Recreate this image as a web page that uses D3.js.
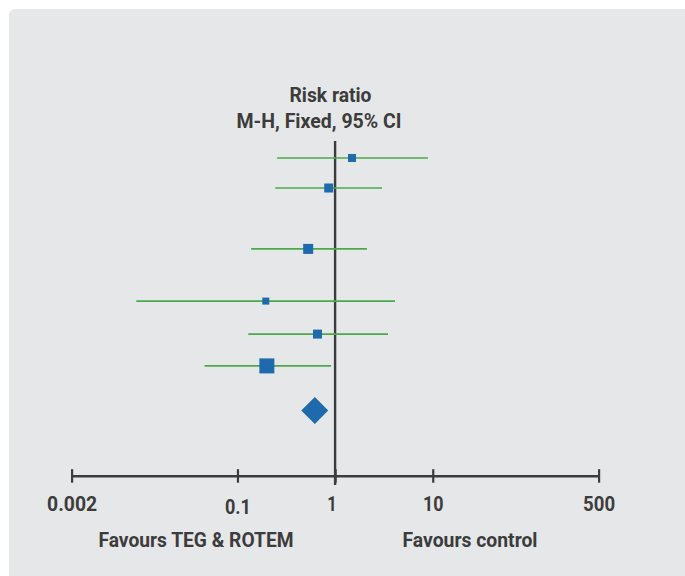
<!DOCTYPE html>
<html>
<head>
<meta charset="utf-8">
<script src="https://cdn.jsdelivr.net/npm/d3@7/dist/d3.min.js"></script>
<style>
  html, body { margin: 0; padding: 0; background: #ffffff; }
  svg { display: block; }
  text { font-family: Roboto, "Noto Sans", sans-serif; font-weight: 700; fill: #3c3c3c; }
</style>
</head>
<body>
<svg id="chart" width="685" height="576"></svg>
<script>
// ---- data ----
const studies = ["Study 1", "Study 2", "Study 3", "Study 4", "Study 5", "Study 6"];
const riskRatio = [1.49, 0.86, 0.53, 0.195, 0.66, 0.20];
const ciLower   = [0.255, 0.244, 0.138, 0.0092, 0.129, 0.046];
const ciUpper   = [8.93, 3.02, 2.12, 4.11, 3.48, 0.91];
const weights   = [10.7, 13.5, 16.7, 8.2, 13.5, 37.5];
const rowPos    = [0, 1, 3.03, 4.77, 5.87, 6.93];
const pooled    = { rr: 0.62, lower: 0.45, upper: 0.85, row: 8.42 };
const tickValues = [0.002, 0.1, 1, 10, 500];
const tickLabels = ["0.002", "0.1", "1", "10", "500"];

const svg = d3.select("#chart");

// panel
svg.append("rect")
  .attr("x", 9).attr("y", 9)
  .attr("width", 690).attr("height", 580)
  .attr("rx", 6).attr("ry", 6)
  .attr("fill", "#e6e7e9");

const x = d3.scaleLog().domain([0.002, 500]).range([71.6, 598.6]);
const y = d3.scaleLinear().domain([0, 1]).range([158, 188]);
const side = d3.scaleSqrt().domain([0, 37.5]).range([0, 15]);

// title
svg.append("text").attr("x", 330.5).attr("y", 101.7)
  .attr("text-anchor", "middle").attr("font-size", 20)
  .attr("textLength", 82).attr("lengthAdjust", "spacingAndGlyphs")
  .text("Risk ratio");
svg.append("text").attr("x", 319).attr("y", 127.7)
  .attr("text-anchor", "middle").attr("font-size", 20)
  .attr("textLength", 165).attr("lengthAdjust", "spacingAndGlyphs")
  .text("M-H, Fixed, 95% CI");

// axis
const axisY = 475.7;
const axis = d3.axisBottom(x).tickValues(tickValues).tickFormat((d, i) => tickLabels[i]).tickSize(0).tickSizeOuter(0);
const gAxis = svg.append("g").attr("transform", `translate(0,${axisY})`).call(axis);
gAxis.select(".domain").attr("stroke", "#3c3c3c").attr("stroke-width", 2.4);
gAxis.selectAll(".tick line").remove();
gAxis.selectAll(".tick").append("line")
  .attr("y1", -6.5).attr("y2", 7)
  .attr("stroke", "#3c3c3c").attr("stroke-width", 2.2);
const labelWidths = { "0.002": 50, "0.1": 26, "1": 9.5, "10": 20.5, "500": 32 };
gAxis.selectAll(".tick text")
  .attr("fill", "#3c3c3c")
  .attr("font-size", 21)
  .attr("font-family", "Roboto, sans-serif")
  .attr("font-weight", 700)
  .attr("dy", null)
  .attr("y", d => (d === 0.1 ? 38.3 : 35.3))
  .attr("dx", d => (d === 1 ? -3.5 : 0))
  .attr("textLength", (d, i) => labelWidths[tickLabels[i]])
  .attr("lengthAdjust", "spacingAndGlyphs");

// line of no effect
svg.append("line")
  .attr("x1", x(1)).attr("x2", x(1))
  .attr("y1", 141).attr("y2", 485)
  .attr("stroke", "#3c3c3c").attr("stroke-width", 2.4);

// CIs
const rows = studies.map((s, i) => ({ s, rr: riskRatio[i], lo: ciLower[i], hi: ciUpper[i], w: weights[i], r: rowPos[i] }));
svg.append("g").selectAll("line").data(rows).join("line")
  .attr("x1", d => x(d.lo)).attr("x2", d => x(d.hi))
  .attr("y1", d => y(d.r)).attr("y2", d => y(d.r))
  .attr("stroke", "#4ca84c").attr("stroke-width", 1.6);

svg.append("g").selectAll("rect").data(rows).join("rect")
  .attr("x", d => x(d.rr) - side(d.w) / 2)
  .attr("y", d => y(d.r) - side(d.w) / 2)
  .attr("width", d => side(d.w)).attr("height", d => side(d.w))
  .attr("fill", "#1e6aad");

// pooled diamond
const py = y(pooled.row);
svg.append("path")
  .attr("d", `M${x(pooled.lower)},${py} L${x(pooled.rr)},${py - 13.5} L${x(pooled.upper)},${py} L${x(pooled.rr)},${py + 13.5} Z`)
  .attr("fill", "#1e6aad");

// favours labels
svg.append("text").attr("x", 196).attr("y", 547)
  .attr("text-anchor", "middle").attr("font-size", 21)
  .attr("textLength", 195).attr("lengthAdjust", "spacingAndGlyphs")
  .text("Favours TEG & ROTEM");
svg.append("text").attr("x", 470).attr("y", 547)
  .attr("text-anchor", "middle").attr("font-size", 21)
  .attr("textLength", 135).attr("lengthAdjust", "spacingAndGlyphs")
  .text("Favours control");
</script>
</body>
</html>
